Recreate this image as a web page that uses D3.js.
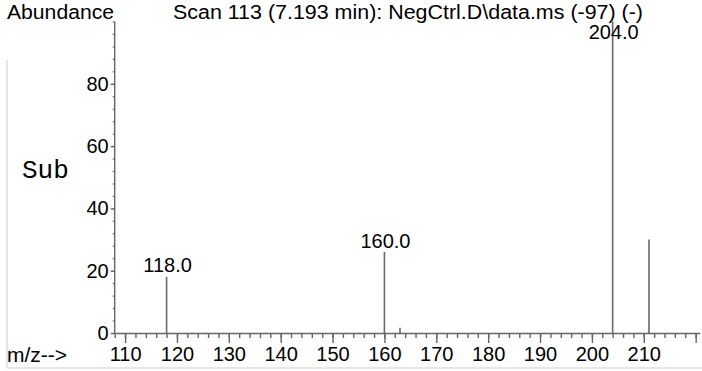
<!DOCTYPE html>
<html>
<head>
<meta charset="utf-8">
<script src="https://cdn.jsdelivr.net/npm/d3@7"></script>
<style>
  html, body { margin: 0; padding: 0; background: #fff; }
  svg { display: block; }
  text { font-family: "Liberation Sans", Arial, sans-serif; fill: #000; }
</style>
</head>
<body>
<svg id="chart" width="702" height="371"></svg>
<script>
// ---- data ----
const mzValues = [118, 160, 163, 204, 211];
const abundances = [18, 26, 1.7, 100, 30];
const labeledPeaks = [118, 160, 204];
const peakLabels = ["118.0", "160.0", "204.0"];
const xMajorTicks = [110, 120, 130, 140, 150, 160, 170, 180, 190, 200, 210, 220];
const xTickLabels = ["110", "120", "130", "140", "150", "160", "170", "180", "190", "200", "210", ""];
const yMajorTicks = [0, 20, 40, 60, 80];
const yTickLabels = ["0", "20", "40", "60", "80"];
const titleText = "Scan 113 (7.193 min): NegCtrl.D\\data.ms (-97) (-)";

// ---- layout ----
const svg = d3.select("#chart");
const x = d3.scaleLinear().domain([108, 220.8]).range([114.7, 699.8]);
const y = d3.scaleLinear().domain([0, 100]).range([333, 21.5]);
const axisColor = "#666";
const peakColor = "#6a6a6a";

// faint frame
svg.append("line").attr("x1", 7).attr("x2", 7).attr("y1", 60).attr("y2", 368)
  .attr("stroke", "#e6e6e6").attr("stroke-width", 2);
svg.append("line").attr("x1", 7).attr("x2", 702).attr("y1", 368).attr("y2", 368)
  .attr("stroke", "#e6e6e6").attr("stroke-width", 2);

// minor ticks
const xMinor = d3.range(108, 221, 2);
const yMinor = d3.range(0, 101, 4);

const gx = svg.append("g").attr("transform", `translate(0,${y(0)})`);
gx.call(d3.axisBottom(x).tickValues(xMinor).tickSize(5).tickSizeOuter(0).tickFormat(""));
gx.select(".domain").remove();
gx.selectAll("line").attr("stroke", axisColor).attr("stroke-width", 1.4);
const gx2 = svg.append("g").attr("transform", `translate(0,${y(0)})`);
gx2.call(d3.axisBottom(x).tickValues(xMajorTicks).tickSize(10).tickSizeOuter(0)
  .tickFormat((d, i) => xTickLabels[i]));
gx2.select(".domain").attr("stroke", axisColor).attr("stroke-width", 1.4);
gx2.selectAll("line").attr("stroke", axisColor).attr("stroke-width", 1.4);
gx2.selectAll("text").attr("font-size", 20).attr("y", 14).attr("dy", "0.71em")
  .style("font-family", "'Liberation Sans', Arial, sans-serif").attr("fill", "#000");

const gy = svg.append("g").attr("transform", `translate(${x(108)},0)`);
gy.call(d3.axisLeft(y).tickValues(yMinor).tickSize(2).tickSizeOuter(0).tickFormat(""));
gy.select(".domain").remove();
gy.selectAll("line").attr("stroke", axisColor).attr("stroke-width", 1.2);
const gy2 = svg.append("g").attr("transform", `translate(${x(108)},0)`);
gy2.call(d3.axisLeft(y).tickValues(yMajorTicks).tickSize(4).tickSizeOuter(0)
  .tickFormat((d, i) => yTickLabels[i]));
gy2.select(".domain").attr("stroke", axisColor).attr("stroke-width", 1.4)
  .attr("d", `M0,${y(100)}V${y(0)}`);
gy2.selectAll("line").attr("stroke", axisColor).attr("stroke-width", 1.4);
gy2.selectAll("text").attr("font-size", 20).attr("x", -6)
  .style("font-family", "'Liberation Sans', Arial, sans-serif").attr("fill", "#000");

// peaks
const peaks = mzValues.map((m, i) => ({ m, a: abundances[i] }));
svg.append("g").selectAll("line").data(peaks).join("line")
  .attr("x1", d => x(d.m)).attr("x2", d => x(d.m))
  .attr("y1", y(0)).attr("y2", d => y(d.a))
  .attr("stroke", peakColor).attr("stroke-width", 1.6);

// peak labels
svg.append("g").selectAll("text").data(labeledPeaks).join("text")
  .attr("x", d => x(d) + 1)
  .attr("y", (d) => {
    const a = abundances[mzValues.indexOf(d)];
    return Math.max(y(a) - 4.5, 38.5);
  })
  .attr("text-anchor", "middle").attr("font-size", 20)
  .text((d, i) => peakLabels[i]);

// titles
svg.append("text").attr("x", 7).attr("y", 18.5).attr("font-size", 20)
  .attr("textLength", 107).attr("lengthAdjust", "spacingAndGlyphs").text("Abundance");
svg.append("text").attr("x", 173).attr("y", 18.5).attr("font-size", 20)
  .attr("textLength", 470).attr("lengthAdjust", "spacingAndGlyphs").text(titleText);
svg.append("text").attr("x", 7).attr("y", 362).attr("font-size", 21).text("m/z-->");
svg.append("text").attr("x", 22).attr("y", 178).attr("font-size", 26)
  .style("font-family", "'Liberation Mono', 'Courier New', monospace").text("Sub");
</script>
</body>
</html>
